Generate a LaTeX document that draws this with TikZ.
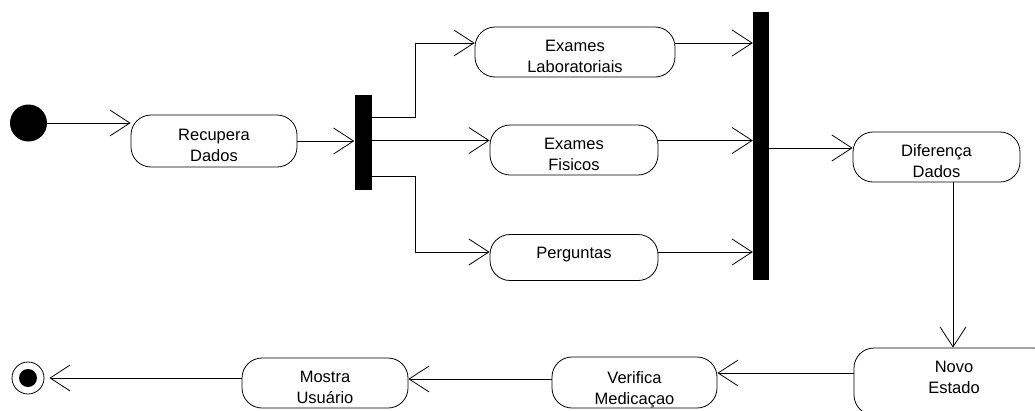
\documentclass[tikz,border=0pt]{standalone}
\usepackage{fontspec}
\setmainfont{Liberation Sans}
\usetikzlibrary{arrows.meta}

% two-line (or one-line) activity label, shifted down by #1 pt inside its box
\newcommand\actlabel[2]{\raisebox{-#1pt}[\height][\depth]{\begin{tabular}{@{}c@{}}#2\end{tabular}}}

\tikzset{
  activity/.style={draw, line width=0.8pt, rounded corners=20pt, inner sep=0pt,
                   font=\fontsize{16.5}{21}\selectfont},
  syncbar/.style={fill=black, draw=none, inner sep=0pt},
  flow/.style={draw, line width=0.8pt, -{Straight Barb[length=20pt,width=26pt,line width=0.8pt]}},
}

\begin{document}
\begin{tikzpicture}[x=1pt, y=-1pt]
\useasboundingbox (0,0) rectangle (1035,410);

% initial and final states
\node[circle, fill=black, minimum size=37pt, inner sep=0pt] (start) at (28.5,123) {};
\node[circle, draw, line width=0.8pt, minimum size=32pt, inner sep=0pt] (endc) at (28,378) {};
\fill (endc.center) circle (9pt);

% activities
\node[activity, minimum width=166pt, minimum height=52pt] (rec) at (214,141) {\actlabel{5.5}{Recupera\\Dados}};
\node[activity, minimum width=200pt, minimum height=50pt] (lab) at (575,52) {\actlabel{5.5}{Exames\\Laboratoriais}};
\node[activity, minimum width=168pt, minimum height=50pt] (fis) at (574,150) {\actlabel{5.5}{Exames\\Fisicos}};
\node[activity, minimum width=168pt, minimum height=46pt] (per) at (574,257.5) {\actlabel{-3.3}{Perguntas}};
\node[activity, minimum width=167pt, minimum height=50pt] (dif) at (936.5,157) {\actlabel{5.5}{Diferença\\Dados}};
\node[activity, minimum width=200pt, minimum height=67pt] (nov) at (954,381.5) {\actlabel{-2.5}{Novo\\Estado}};
\node[activity, minimum width=165pt, minimum height=51pt] (ver) at (634.5,382.5) {\actlabel{7.5}{Verifica\\Medicaçao}};
\node[activity, minimum width=166pt, minimum height=50pt] (mos) at (325,383) {\actlabel{5.5}{Mostra\\Usuário}};

% fork and join bars
\node[syncbar, minimum width=17pt, minimum height=95pt] (fork) at (363,142.5) {};
\node[syncbar, minimum width=16pt, minimum height=268pt] (join) at (761,146) {};

% connection points on the activities
\coordinate (recin)   at ([yshift=18pt]rec.west);
\coordinate (labin)   at ([yshift=9pt]lab.west);
\coordinate (labout)  at ([yshift=9pt]lab.east);
\coordinate (fisin)   at ([yshift=9.5pt]fis.west);
\coordinate (fisout)  at ([yshift=9.5pt]fis.east);
\coordinate (perin)   at ([yshift=5.5pt]per.west);
\coordinate (perout)  at ([yshift=5.5pt]per.east);
\coordinate (difin)   at ([yshift=9pt]dif.west);
\coordinate (difout)  at ([xshift=16.5pt]dif.south);
\coordinate (novout)  at ([yshift=8.5pt]nov.west);
\coordinate (verout)  at ([yshift=3.5pt]ver.west);
\coordinate (mosout)  at ([yshift=5pt]mos.west);
\coordinate (forkup)  at ([yshift=25.5pt]fork.east);
\coordinate (forklow) at ([yshift=-33.5pt]fork.east);

% transitions
\draw[flow] (start.east |- recin) -- (recin);
\draw[flow] (rec.east) -- (rec.east -| fork.west);
\draw[flow] (forkup) -- ++(44,0) |- (labin);
\draw[flow] (fisin -| fork.east) -- (fisin);
\draw[flow] (forklow) -- ++(44,0) |- (perin);
\draw[flow] (labout) -- (labout -| join.west);
\draw[flow] (fisout) -- (fisout -| join.west);
\draw[flow] (perout) -- (perout -| join.west);
\draw[flow] (difin -| join.east) -- (difin);
\draw[flow] (difout) -- (difout |- nov.north);
\draw[flow] (novout) -- (novout -| ver.east);
\draw[flow] (verout) -- (verout -| mos.east);
\draw[flow, shorten >=5pt] (mosout) -- (mosout -| endc.east);
\end{tikzpicture}
\end{document}
